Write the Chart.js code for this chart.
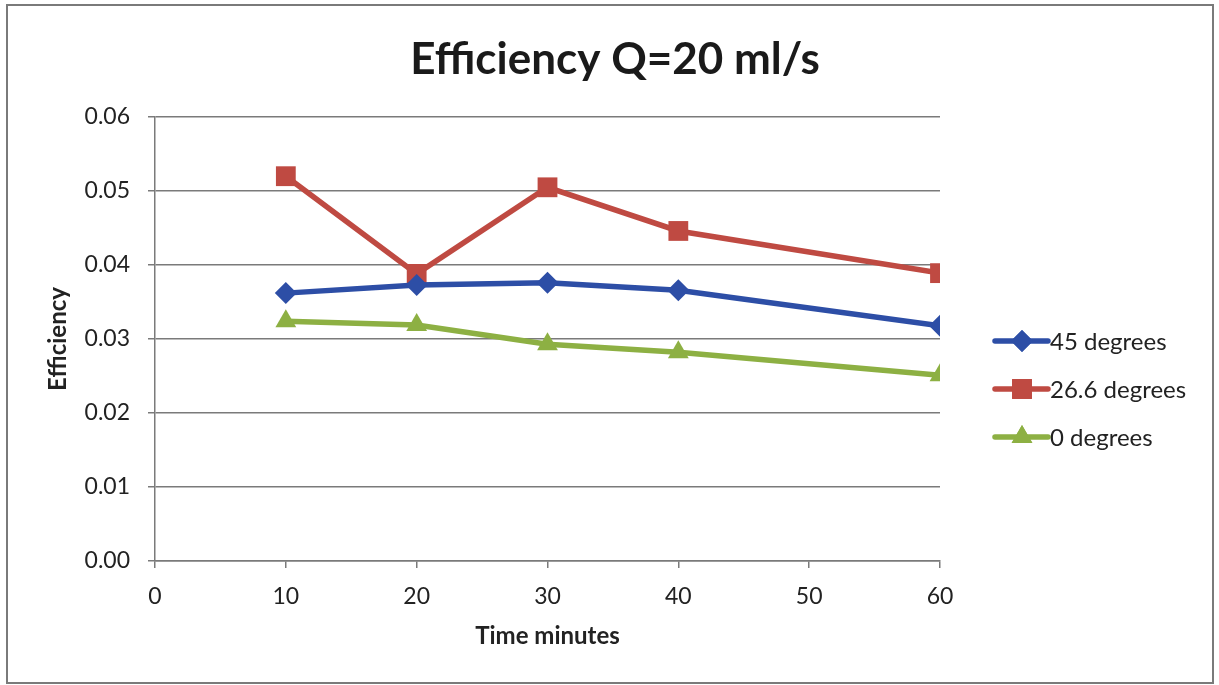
<!DOCTYPE html>
<html>
<head>
<meta charset="utf-8">
<script src="https://cdn.jsdelivr.net/npm/chart.js@4/dist/chart.umd.min.js"></script>
<style>
    html, body { margin: 0; padding: 0; background: #fff; }
    #wrap { width: 1219px; height: 685px; position: relative; }
</style>
</head>
<body>
<div id="wrap"><canvas id="effChart"></canvas></div>
<script>
// --- Data ---
const minutes = [10, 20, 30, 40, 60];
const eff45 = [0.0362, 0.0373, 0.0376, 0.0366, 0.0318];
const eff266 = [0.0520, 0.0388, 0.0505, 0.0446, 0.0389];
const eff0 = [0.0324, 0.0319, 0.0293, 0.0282, 0.0251];
const seriesNames = ['45 degrees', '26.6 degrees', '0 degrees'];
const xTicks = [0, 10, 20, 30, 40, 50, 60];
const yTicks = [0, 0.01, 0.02, 0.03, 0.04, 0.05, 0.06];
const chartTitle = 'Efficiency Q=20 ml/s';

const FONT = "Lato, 'Open Sans', sans-serif";
const colors = ['#2D4EA6', '#BF4A42', '#8DB043'];
const shapes = ['rectRot', 'rect', 'triangle'];
const radii = [11, 14, 12];

function toPoints(ys) {
    return minutes.map((m, i) => ({ x: m, y: ys[i] }));
}

const datasets = [eff45, eff266, eff0].map((ys, i) => ({
    label: seriesNames[i],
    data: toPoints(ys),
    borderColor: colors[i],
    backgroundColor: colors[i],
    borderWidth: 5.5,
    pointStyle: shapes[i],
    pointRadius: radii[i],
    pointBorderWidth: 0,
    tension: 0
}));

// white page, thin frame round the chart, and the title centred on the page
const framePlugin = {
    id: 'frame',
    beforeDraw(chart) {
        const ctx = chart.ctx;
        ctx.save();
        ctx.fillStyle = '#fff';
        ctx.fillRect(0, 0, chart.width, chart.height);
        ctx.strokeStyle = '#7a7a7a';
        ctx.lineWidth = 2;
        ctx.strokeRect(7, 5, chart.width - 13, chart.height - 7);
        ctx.fillStyle = '#1a1a1a';
        ctx.font = 'bold 44px ' + FONT;
        ctx.textAlign = 'center';
        ctx.textBaseline = 'middle';
        ctx.fillText(chartTitle, 615, 60);
        ctx.restore();
    }
};

// Excel style legend: line with marker through it
const sideLegend = {
    id: 'sideLegend',
    afterDraw(chart) {
        const ctx = chart.ctx;
        const x0 = chart.chartArea.right + 55;
        const rowY = [341, 389, 437];
        ctx.save();
        chart.data.datasets.forEach((ds, i) => {
            const y = rowY[i];
            ctx.strokeStyle = ds.borderColor;
            ctx.lineWidth = 5.5;
            ctx.lineCap = 'round';
            ctx.beginPath();
            ctx.moveTo(x0, y);
            ctx.lineTo(x0 + 53, y);
            ctx.stroke();
            ctx.fillStyle = ds.backgroundColor;
            Chart.helpers.drawPoint(ctx, { pointStyle: ds.pointStyle, radius: ds.pointRadius, borderWidth: 0 }, x0 + 27, y);
            ctx.fill();
            ctx.fillStyle = '#222';
            ctx.font = '24px ' + FONT;
            ctx.textBaseline = 'middle';
            ctx.fillText(ds.label, x0 + 55, y + 1);
        });
        ctx.restore();
    }
};

new Chart(document.getElementById('effChart'), {
    type: 'line',
    data: { datasets },
    plugins: [framePlugin, sideLegend],
    options: {
        responsive: true,
        maintainAspectRatio: false,
        animation: false,
        layout: { padding: { left: 0, right: 279, top: 117, bottom: 0 } },
        plugins: {
            legend: { display: false },
            tooltip: { enabled: false },
            title: { display: false }
        },
        scales: {
            x: {
                type: 'linear',
                min: 0,
                max: 60,
                afterBuildTicks: (s) => { s.ticks = xTicks.map(v => ({ value: v })); },
                afterFit: (s) => { s.height = 124; },
                ticks: { color: '#222', font: { family: FONT, size: 23 }, padding: 15 },
                grid: { drawOnChartArea: false, drawTicks: true, tickLength: 7, color: '#7a7a7a', lineWidth: 1.5 },
                border: { color: '#7a7a7a', width: 1.5 },
                title: {
                    display: true,
                    text: 'Time minutes',
                    color: '#222',
                    font: { family: FONT, size: 24, weight: 'bold' },
                    padding: { top: 34, bottom: 34 }
                }
            },
            y: {
                min: 0,
                max: 0.06,
                afterBuildTicks: (s) => { s.ticks = yTicks.map(v => ({ value: v })); },
                afterFit: (s) => { s.width = 155; },
                ticks: {
                    color: '#222',
                    font: { family: FONT, size: 23 },
                    padding: 18,
                    callback: (v) => v.toFixed(2)
                },
                grid: { color: '#7a7a7a', lineWidth: 1.5, tickLength: 7 },
                border: { color: '#7a7a7a', width: 1.5 },
                title: {
                    display: true,
                    text: 'Efficiency',
                    color: '#222',
                    font: { family: FONT, size: 24, weight: 'bold' },
                    padding: { top: 44, bottom: 44 }
                }
            }
        }
    }
});
</script>
</body>
</html>
